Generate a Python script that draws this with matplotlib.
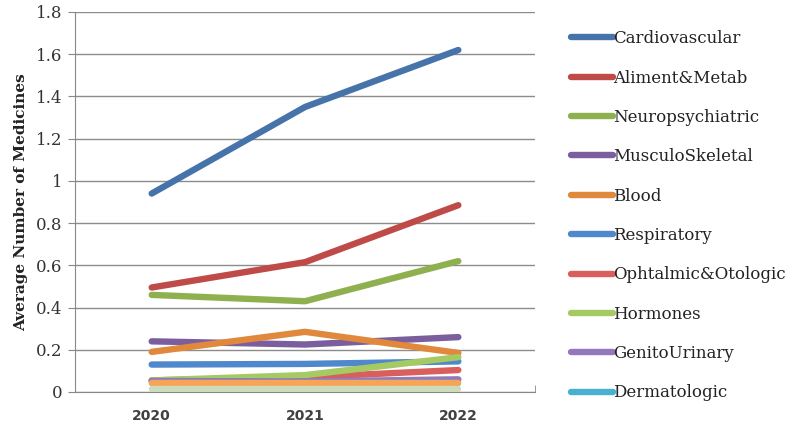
import matplotlib
matplotlib.use("Agg")
import matplotlib.pyplot as plt

years = ["2020", "2021", "2022"]
series_names = ["Cardiovascular", "Aliment&Metab", "Neuropsychiatric", "MusculoSkeletal",
                "Blood", "Respiratory", "Ophtalmic&Otologic", "Hormones",
                "GenitoUrinary", "Dermatologic"]
cardiovascular = [0.94, 1.35, 1.62]
aliment = [0.495, 0.615, 0.885]
neuro = [0.46, 0.43, 0.62]
musculo = [0.24, 0.225, 0.26]
blood = [0.19, 0.285, 0.185]
respiratory = [0.13, 0.133, 0.145]
ophtalmic = [0.055, 0.07, 0.104]
hormones = [0.055, 0.08, 0.165]
genito = [0.052, 0.05, 0.06]
dermato = [0.042, 0.042, 0.042]
extra1 = [0.042, 0.042, 0.042]
extra2 = [0.015, 0.015, 0.015]

values = [cardiovascular, aliment, neuro, musculo, blood, respiratory,
          ophtalmic, hormones, genito, dermato]
colors = ["#4674AA", "#BE4B48", "#8FB04E", "#7B5E9E", "#E0893D", "#4F88CC",
          "#D95F5C", "#A5CA64", "#9478BC", "#47B1CE"]
extra_colors = ["#F7A456", "#CADCBC"]

fig = plt.figure(figsize=(7.97, 4.28), dpi=100)
ax = fig.add_axes([75/797, 1-392/428, 460/797, 380/428])

x = list(range(len(years)))
for name, v, c in zip(series_names, values, colors):
    ax.plot(x, v, color=c, lw=4.6, solid_capstyle="round", label=name, zorder=3)
for v, c in zip([extra1, extra2], extra_colors):
    ax.plot(x, v, color=c, lw=4.6, solid_capstyle="round", zorder=3)

ax.set_xlim(-0.5, 2.5)
ax.set_ylim(0, 1.8)
ax.set_yticks([0, 0.2, 0.4, 0.6, 0.8, 1, 1.2, 1.4, 1.6, 1.8])
ax.set_yticklabels(["0", "0.2", "0.4", "0.6", "0.8", "1", "1.2", "1.4", "1.6", "1.8"],
                   fontfamily="DejaVu Serif", fontsize=12, color="#333333")
ax.set_xticks(x)
ax.set_xticklabels(years, fontfamily="DejaVu Sans", fontweight="bold", fontsize=10, color="#404040")
ax.set_xticks([-0.5, 0.5, 1.5, 2.5], minor=True)
ax.tick_params(axis="x", which="major", length=0, pad=12)
ax.tick_params(axis="x", which="minor", length=5, direction="in", color="#888888")
ax.tick_params(axis="y", length=5, color="#888888", pad=4)
ax.grid(axis="y", color="#8c8c8c", lw=1)
ax.set_axisbelow(True)
for s in ["top", "right"]:
    ax.spines[s].set_visible(False)
ax.spines["left"].set_color("#888888")
ax.spines["bottom"].set_color("#888888")
ax.set_ylabel("Average Number of Medicines", fontfamily="DejaVu Serif", fontweight="bold",
              fontsize=11, color="#222222", labelpad=6)

leg = fig.legend(loc="upper left", bbox_to_anchor=(563/797, 1-22/428), frameon=False,
                 prop={"family": "DejaVu Serif", "size": 12}, handlelength=2.5,
                 handletextpad=0.0, labelspacing=1.34, borderpad=0)
for t in leg.get_texts():
    t.set_color("#222222")

fig.savefig("out.png", dpi=100)
